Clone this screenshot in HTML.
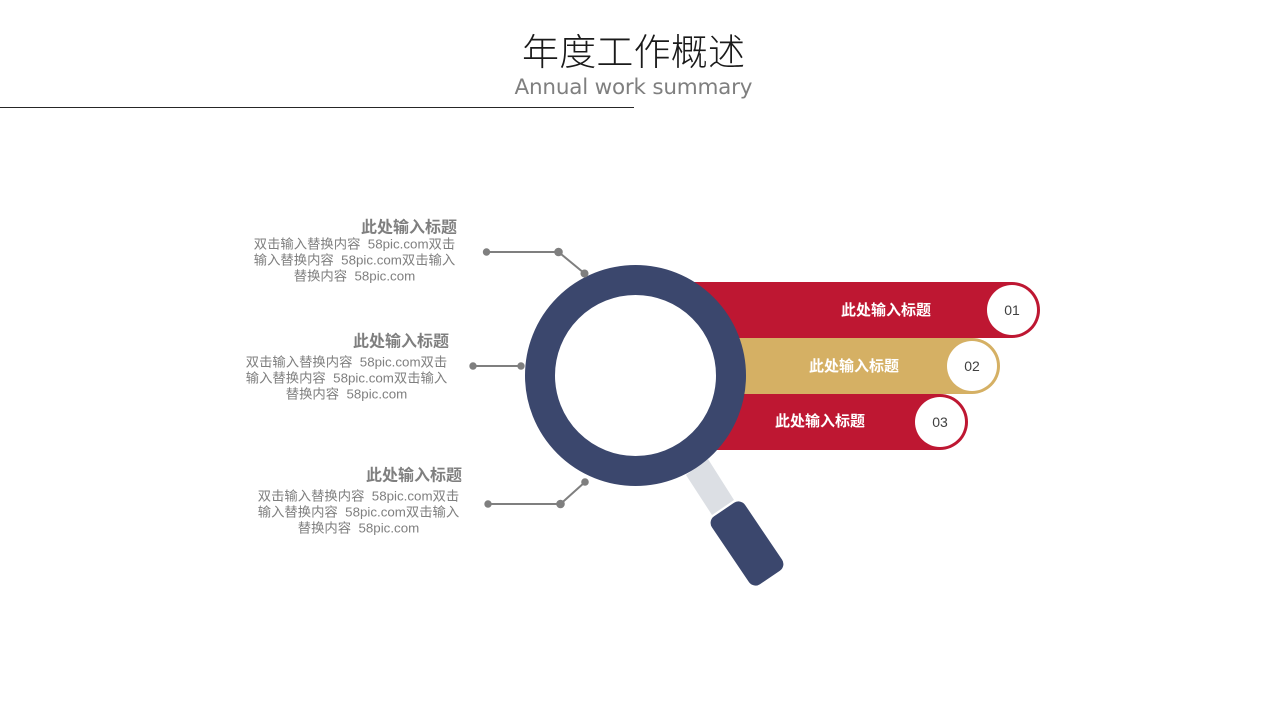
<!DOCTYPE html>
<html lang="zh">
<head>
<meta charset="utf-8">
<title>年度工作概述</title>
<style>
html,body{margin:0;padding:0;background:#fff;width:1280px;height:720px;overflow:hidden}
svg{display:block;position:absolute;left:0;top:0}
text{font-family:"Liberation Sans","Noto Sans CJK SC",sans-serif;white-space:pre}
.h{font-size:16px;font-weight:700;fill:#7f7f7f;text-anchor:end}
.b{font-size:13.33px;fill:#7f7f7f;text-anchor:middle}
.l{font-size:15px;font-weight:700;fill:#fff;text-anchor:middle}
.n{font-size:14px;fill:#404040;text-anchor:middle}
</style>
</head>
<body>
<svg width="1280" height="720" viewBox="0 0 1280 720" xmlns="http://www.w3.org/2000/svg">
  <text x="633.5" y="65" text-anchor="middle" font-size="37" font-weight="300" fill="#1a1a1a" textLength="223" lengthAdjust="spacing" style="font-family:'Liberation Sans','Noto Sans CJK SC',sans-serif">年度工作概述</text>
  <text x="633.5" y="94" text-anchor="middle" font-size="21.5" fill="#7f7f7f" textLength="238" lengthAdjust="spacing" style="font-family:'DejaVu Sans',sans-serif">Annual work summary</text>
  <rect x="0" y="107" width="634" height="1" fill="#262626"/>

  <!-- Bars -->
  <path d="M680 282H1012a28 28 0 0 1 0 56H680Z" fill="#be1732"/>
  <path d="M700 394H940a28 28 0 0 1 0 56H700Z" fill="#be1732"/>
  <path d="M700 338H972a28 28 0 0 1 0 56H700Z" fill="#d5b064"/>
  <circle cx="1012" cy="310" r="25" fill="#fff"/>
  <circle cx="972" cy="366" r="25" fill="#fff"/>
  <circle cx="940" cy="422" r="25" fill="#fff"/>
  <text class="l" x="886" y="315">此处输入标题</text>
  <text class="l" x="854" y="371">此处输入标题</text>
  <text class="l" x="820" y="426">此处输入标题</text>
  <text class="n" x="1012" y="315">01</text>
  <text class="n" x="972" y="371">02</text>
  <text class="n" x="940" y="427">03</text>

  <!-- Magnifier -->
  <polygon points="686,475 708,459 734,500 712,515" fill="#dcdfe4"/>
  <rect x="727" y="502.5" width="40" height="82" rx="8" ry="8" fill="#3b476d" transform="rotate(-34 747 543.5)"/>
  <circle cx="635.5" cy="375.5" r="95.5" fill="#fff" stroke="#3b476d" stroke-width="30"/>

  <!-- Connectors -->
  <g fill="#7f7f7f" stroke="none">
    <polyline points="486.5,252 558.5,252 584,273" fill="none" stroke="#7f7f7f" stroke-width="2"/>
    <circle cx="486.5" cy="252" r="3.7"/><circle cx="558.5" cy="252" r="4.3"/><circle cx="584.5" cy="273.5" r="4"/>
    <polyline points="473,366 521,366" fill="none" stroke="#7f7f7f" stroke-width="2"/>
    <circle cx="473" cy="366" r="3.7"/><circle cx="521" cy="366" r="3.7"/>
    <polyline points="488,504 560.5,504 585,482" fill="none" stroke="#7f7f7f" stroke-width="2"/>
    <circle cx="488" cy="504" r="3.7"/><circle cx="560.5" cy="504" r="4.3"/><circle cx="585" cy="482" r="3.8"/>
  </g>

  <!-- Left text -->
  <text class="h" x="457" y="232.5">此处输入标题</text>
  <text class="b" x="354.5" y="248.5">双击输入替换内容  58pic.com双击</text>
  <text class="b" x="354.5" y="264.5">输入替换内容  58pic.com双击输入</text>
  <text class="b" x="354.5" y="280.5">替换内容  58pic.com</text>

  <text class="h" x="449" y="346.5">此处输入标题</text>
  <text class="b" x="346.5" y="366.5">双击输入替换内容  58pic.com双击</text>
  <text class="b" x="346.5" y="382.5">输入替换内容  58pic.com双击输入</text>
  <text class="b" x="346.5" y="398.5">替换内容  58pic.com</text>

  <text class="h" x="462" y="480.5">此处输入标题</text>
  <text class="b" x="358.5" y="500.5">双击输入替换内容  58pic.com双击</text>
  <text class="b" x="358.5" y="516.5">输入替换内容  58pic.com双击输入</text>
  <text class="b" x="358.5" y="532.5">替换内容  58pic.com</text>
</svg>
</body>
</html>
